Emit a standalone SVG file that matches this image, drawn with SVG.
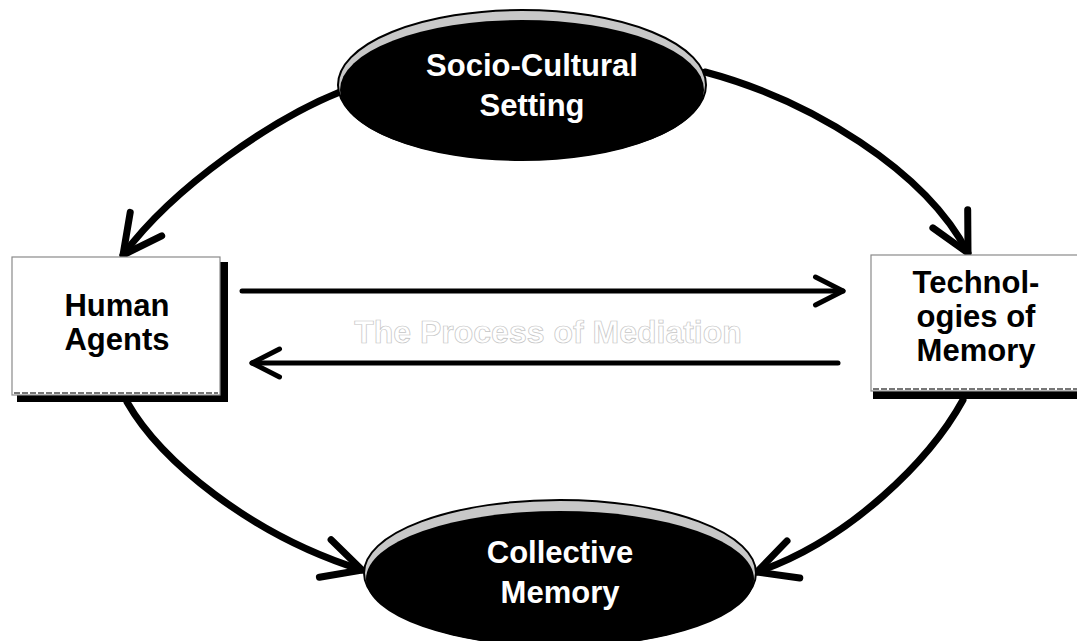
<svg xmlns="http://www.w3.org/2000/svg" width="1077" height="641" viewBox="0 0 1077 641">
<style>
.lbl{font-family:"Liberation Sans",Arial,sans-serif;font-weight:bold;font-size:31px;text-anchor:middle}
.dark{fill:#000}
.light{fill:#fff}
.con{fill:none;stroke:#000;stroke-linecap:round;marker-end:url(#head)}
.curve{stroke-width:7}
.straight{stroke-width:5}
.mid{font-family:"Liberation Sans",Arial,sans-serif;font-weight:bold;font-size:32px;text-anchor:middle;fill:#fff;stroke:#c4c4c4;stroke-width:0.7}
</style>
<defs>
<marker id="head" markerUnits="strokeWidth" viewBox="-7 -4 8 8" refX="0" refY="0" markerWidth="8" markerHeight="8" orient="auto" overflow="visible">
<path d="M-5.5,-2.8 L0,0 L-5.5,2.8" fill="none" stroke="#000" stroke-width="1" stroke-linecap="round" stroke-linejoin="round"/>
</marker>
</defs>
<rect width="1077" height="641" fill="#fff"/>
<g id="connectors">
<path class="con curve" d="M340,92 C275,118 175,185 123,255"/>
<path class="con curve" d="M705,72 C810,100 925,170 968,253"/>
<path class="con curve" d="M127,402 C160,460 250,535 362,570"/>
<path class="con curve" d="M963,400 C930,460 850,540 757,572"/>
<path class="con straight" d="M242,291 L843,291"/>
<path class="con straight" d="M838,363 L252,363"/>
</g>
<g id="socio-cultural-setting">
<ellipse cx="522" cy="85" rx="184" ry="75" fill="#c8c8c8" stroke="#000" stroke-width="2"/>
<ellipse cx="522" cy="90" rx="182" ry="70" fill="#000"/>
<text class="lbl light" x="532" y="76">Socio-Cultural</text>
<text class="lbl light" x="532" y="116">Setting</text>
</g>
<g id="human-agents">
<rect x="17" y="262" width="211" height="140" fill="#000"/>
<rect x="12" y="257" width="208" height="138" fill="#fff" stroke="#8a8a8a" stroke-width="1.2"/>
<line x1="14" y1="393" x2="218" y2="393" stroke="#777" stroke-width="2" stroke-dasharray="6 2"/>
<text class="lbl dark" x="117" y="316">Human</text>
<text class="lbl dark" x="117" y="350">Agents</text>
</g>
<g id="technologies-of-memory">
<rect x="873" y="262" width="210" height="137" fill="#000"/>
<rect x="871" y="255" width="212" height="136" fill="#fff" stroke="#8a8a8a" stroke-width="1.2"/>
<line x1="873" y1="389" x2="1077" y2="389" stroke="#777" stroke-width="2" stroke-dasharray="6 2"/>
<text class="lbl dark" x="976" y="293">Technol-</text>
<text class="lbl dark" x="976" y="327">ogies of</text>
<text class="lbl dark" x="976" y="361">Memory</text>
</g>
<g id="collective-memory">
<ellipse cx="560" cy="573" rx="196" ry="73" fill="#c8c8c8" stroke="#000" stroke-width="2"/>
<ellipse cx="560" cy="579" rx="194" ry="68" fill="#000"/>
<text class="lbl light" x="560" y="563">Collective</text>
<text class="lbl light" x="560" y="603">Memory</text>
</g>
<g id="mediation-label">
<text class="mid" x="548" y="343">The Process of Mediation</text>
</g>
</svg>
